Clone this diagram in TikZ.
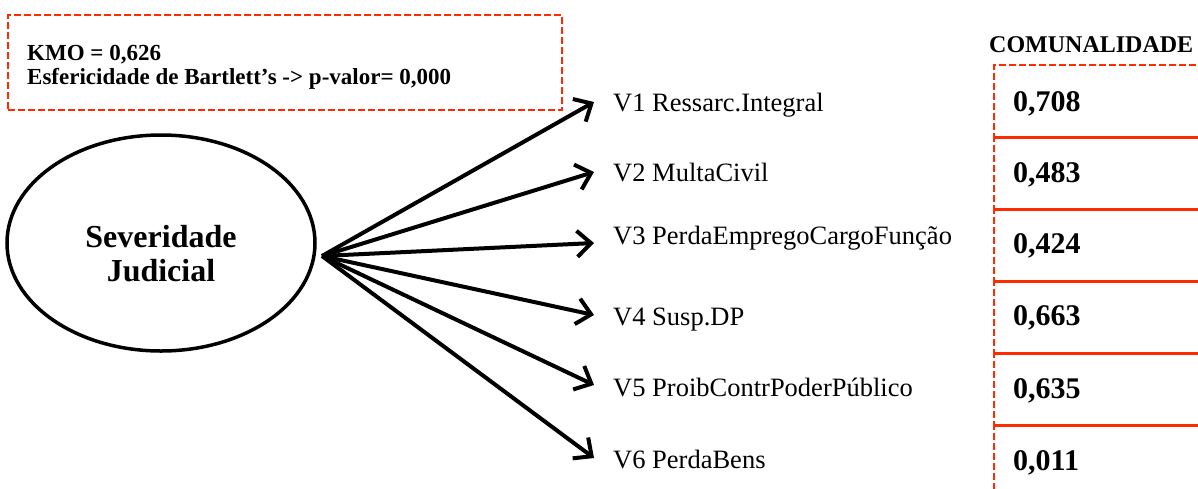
\documentclass[tikz,border=0pt]{standalone}
\usepackage{fontspec}
\setmainfont{Liberation Serif}
\usetikzlibrary{shapes.geometric,arrows.meta}
\definecolor{boxred}{RGB}{255,42,0}
\begin{document}
\begin{tikzpicture}[x=1pt,y=-1pt,
  redbox/.style={draw=boxred,line width=1.8pt,dash pattern=on 7pt off 3pt,inner sep=0pt},
  sepline/.style={draw=boxred,line width=2pt},
  vlabel/.style={anchor=base west,inner sep=0pt,font=\fontsize{26.5}{30}\selectfont},
  numlabel/.style={anchor=base west,inner sep=0pt,font=\fontsize{30}{32}\selectfont\bfseries},
  link/.style={line width=4pt,-{Straight Barb[length=14pt,width=26pt,line width=4pt]}}
]
\useasboundingbox (0,0) rectangle (1198,488);
\clip (0,0) rectangle (1198,488);

% KMO box
\node[redbox,minimum width=554pt,minimum height=95pt] (kmobox) at (285,62.5) {};
\node[anchor=base west,inner sep=0pt,font=\fontsize{23}{24}\selectfont\bfseries] (kmo1) at (27,60) {KMO = 0,626};
\node[anchor=base west,inner sep=0pt,font=\fontsize{23}{24}\selectfont\bfseries] (kmo2) at (27,84) {Esfericidade de Bartlett’s -> p-valor= 0,000};

% latent variable
\node[ellipse,draw,line width=3.5pt,minimum width=308pt,minimum height=216pt] (sev) at (161,243) {};
\node[align=center,inner sep=0pt,font=\fontsize{32}{34}\selectfont\bfseries] (sevtext) at (161,254)
  {Severidade\\Judicial};

\coordinate (hub) at (322,256);
\coordinate (t1) at (594,102);
\coordinate (t2) at (594,172);
\coordinate (t3) at (594,243);
\coordinate (t4) at (594,315);
\coordinate (t5) at (594,385);
\coordinate (t6) at (594,458);

\node[vlabel] (v1) at (613,111) {V1 Ressarc.Integral};
\node[vlabel] (v2) at (613,181) {V2 MultaCivil};
\node[vlabel] (v3) at (613,244) {V3 PerdaEmpregoCargoFunção};
\node[vlabel] (v4) at (613,325) {V4 Susp.DP};
\node[vlabel] (v5) at (613,396) {V5 ProibContrPoderPúblico};
\node[vlabel] (v6) at (613,468) {V6 PerdaBens};

\foreach \i in {1,...,6} \draw[link] (hub) -- (t\i);

% communality column
\node[anchor=base west,inner sep=0pt,font=\fontsize{24}{24}\selectfont\bfseries] (head) at (989,52) {COMUNALIDADE};
\foreach \i/\y in {1/64,2/136,3/208,4/280,5/352,6/424}{
  \node[redbox,anchor=north west,minimum width=230pt,minimum height=72pt] (c\i) at (993,\y) {};
}
\foreach \i in {1,...,5} \draw[sepline] (c\i.south west) -- (c\i.south east);

\node[numlabel] (n1) at (1013,111) {0,708};
\node[numlabel] (n2) at (1013,182) {0,483};
\node[numlabel] (n3) at (1013,253) {0,424};
\node[numlabel] (n4) at (1013,325) {0,663};
\node[numlabel] (n5) at (1013,398) {0,635};
\node[numlabel] (n6) at (1013,470) {0,011};
\end{tikzpicture}
\end{document}
